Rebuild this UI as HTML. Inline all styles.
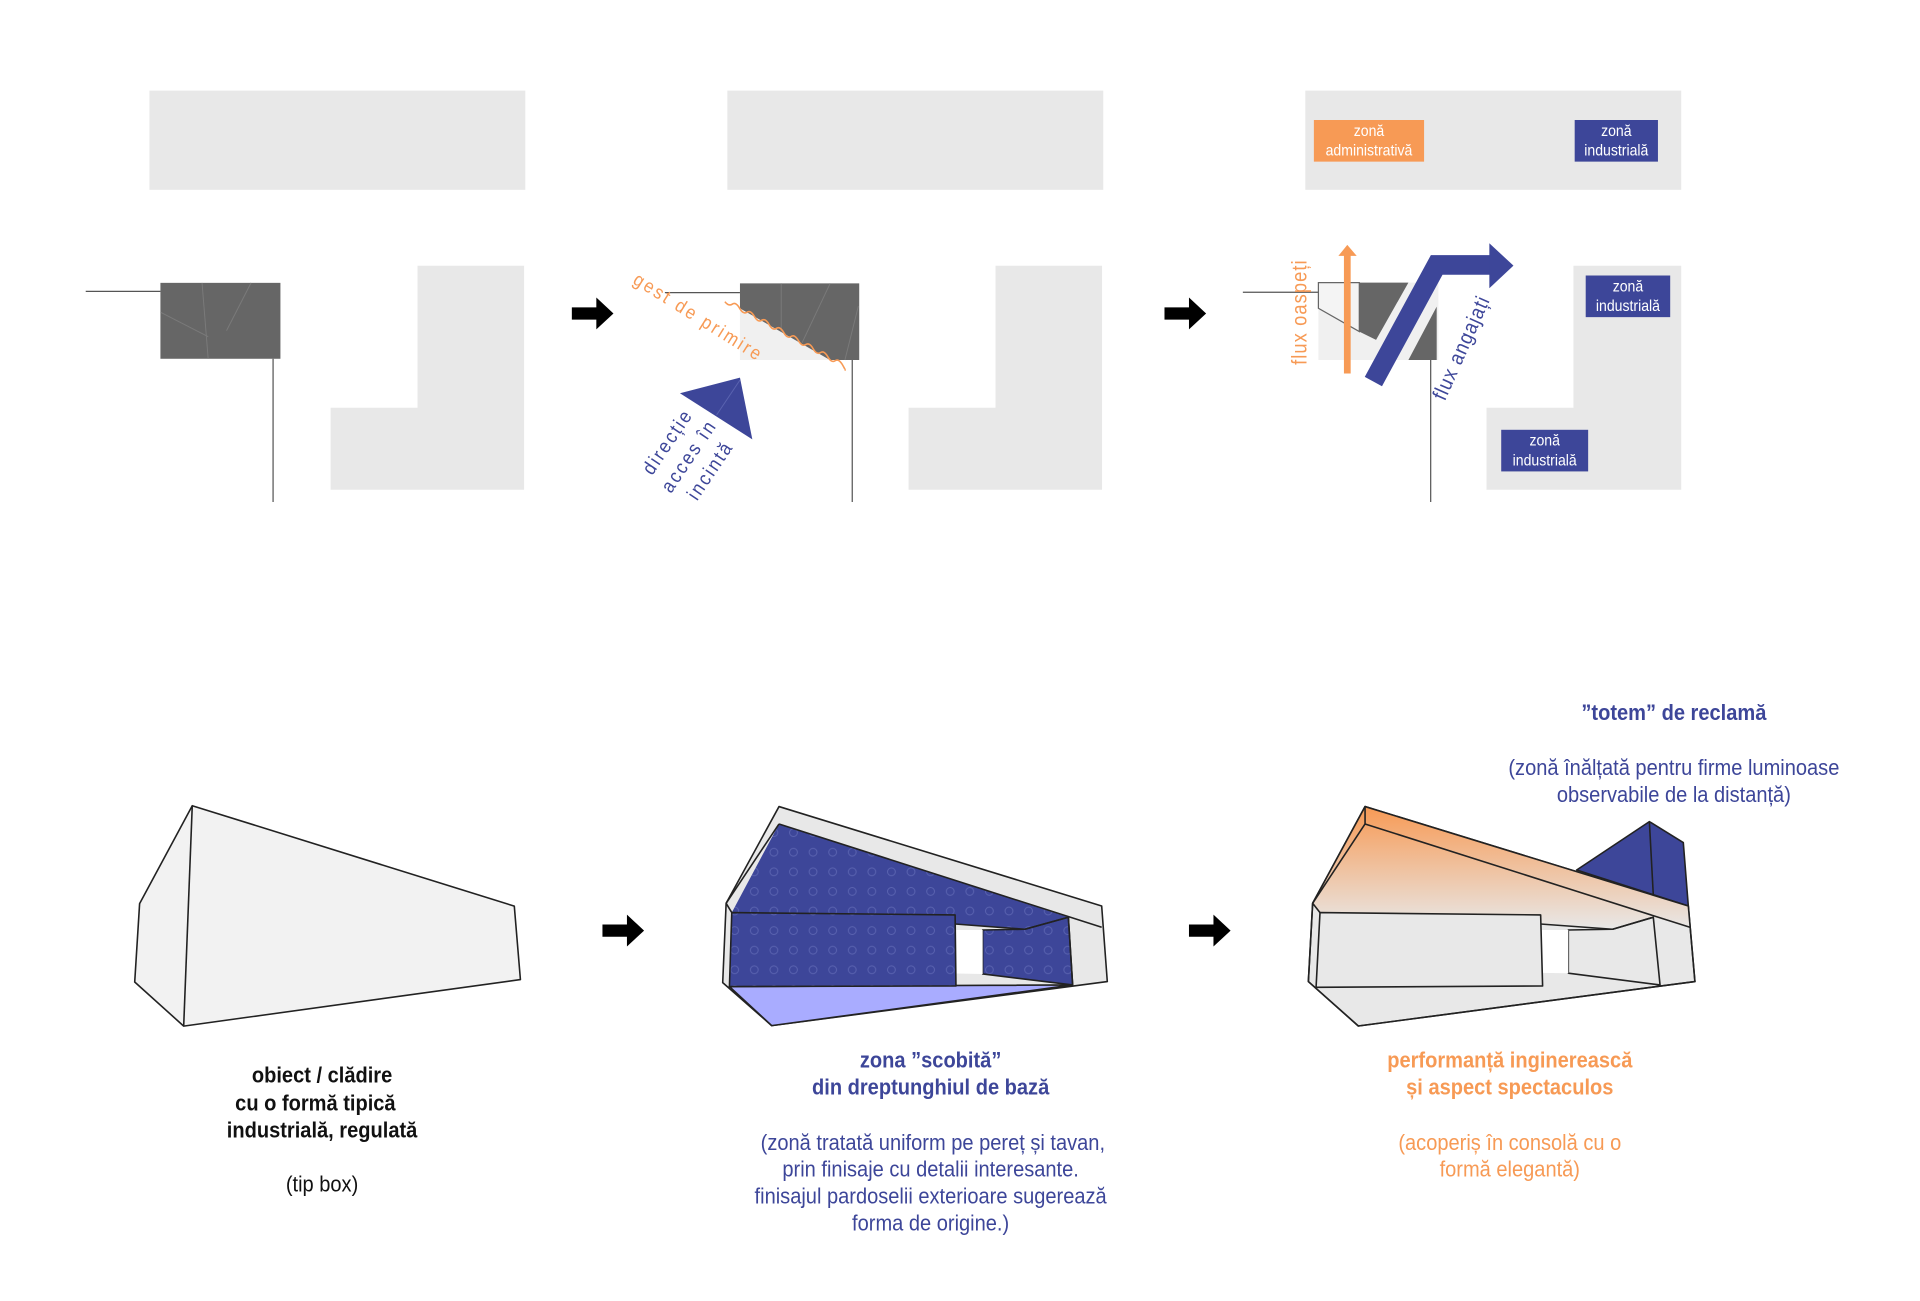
<!DOCTYPE html>
<html><head><meta charset="utf-8"><style>
html,body{margin:0;padding:0;background:#fff;}
svg{display:block;}
text{font-family:"Liberation Sans",sans-serif;}
</style></head><body>
<svg width="1920" height="1301" viewBox="0 0 1568 1062.5" xmlns="http://www.w3.org/2000/svg">
<defs>
<pattern id="dots" width="16" height="16" patternUnits="userSpaceOnUse">
<rect width="16" height="16" fill="#3d4699"/>
<circle cx="8" cy="8" r="3.2" fill="none" stroke="#5a63b0" stroke-width="0.8"/>
</pattern>
<linearGradient id="og" x1="0" y1="0" x2="0" y2="1">
<stop offset="0" stop-color="#f79a55"/><stop offset="1" stop-color="#e8e8e8"/>
</linearGradient>
<g id="arr"><polygon points="0,-5 20,-5 20,-13 34,0 20,13 20,5 0,5" fill="#000"/></g>
</defs>

<!-- TOP ROW -->
<g fill="#e8e8e8">
<rect x="122" y="74" width="307" height="81"/>
<rect x="594" y="74" width="307" height="81"/>
<rect x="1066" y="74" width="307" height="81"/>
<polygon points="341,217 428,217 428,400 270,400 270,333 341,333"/>
<polygon points="813,217 900,217 900,400 742,400 742,333 813,333"/>
<polygon points="1285,217 1373,217 1373,400 1214,400 1214,333 1285,333"/>
</g>
<!-- panel 1 -->
<line x1="70" y1="238" x2="131" y2="238" stroke="#555" stroke-width="1"/>
<line x1="223" y1="293" x2="223" y2="410" stroke="#555" stroke-width="1"/>
<rect x="131" y="231" width="98" height="62" fill="#666"/>
<g stroke="#7a7a7a" stroke-width="0.8" fill="none"><line x1="165" y1="231" x2="170" y2="293"/><line x1="205" y1="231" x2="185" y2="270"/><line x1="131" y1="255" x2="170" y2="275"/></g>
<use href="#arr" x="467" y="256"/>
<!-- panel 2 -->
<line x1="543" y1="239" x2="604.3" y2="239" stroke="#555" stroke-width="1"/>
<line x1="696" y1="294" x2="696" y2="410" stroke="#555" stroke-width="1"/>
<polygon points="604.3,251.8 677.8,294 604.3,294" fill="#f0f0f0"/>
<polygon points="604.3,231.4 701.7,231.4 701.7,294 677.8,294 604.3,251.8" fill="#666"/>
<g stroke="#7a7a7a" stroke-width="0.8" fill="none"><line x1="638" y1="231.4" x2="638" y2="271"/><line x1="678" y1="231.4" x2="655" y2="280"/><line x1="701" y1="250" x2="690" y2="294"/></g>
<path d="M592,246.4 q3,4 6,2 t6,3.3 t6,3.3 t6,3.3 t6,3.3 t6,3.3 t6,3.3 t6,3.3 t6,3.3 t6,3.3 t6,3.3 t6,3.3 t6,3.3 t6,3.3 t6,3.3 t6,3.3 t2,4" fill="none" stroke="#f79a55" stroke-width="1.3"/>
<text transform="translate(516,231) rotate(32) scale(0.9,1)" font-size="15.5" fill="#f79a55" letter-spacing="2.2">gest de primire</text>
<polygon points="555.3,321.2 604.3,308.4 614.4,358.8" fill="#3d4699"/>
<line x1="604.3" y1="310.4" x2="585.2" y2="338.9" stroke="#5a63b0" stroke-width="0.8"/>
<g transform="translate(562,372) rotate(-56) scale(0.9,1)" font-size="16" fill="#3d4699" letter-spacing="2" text-anchor="middle">
<text x="0" y="-15">direcție</text><text x="0" y="6">acces în</text><text x="0" y="27">incintă</text></g>
<use href="#arr" x="951" y="256"/>
<!-- panel 3 -->
<line x1="1015" y1="238.7" x2="1077" y2="238.7" stroke="#555" stroke-width="1"/>
<line x1="1168.4" y1="294" x2="1168.4" y2="410" stroke="#555" stroke-width="1"/>
<rect x="1076.7" y="230.8" width="98" height="63.2" fill="#f0f0f0"/>
<polygon points="1076.7,230.8 1110.1,230.8 1110.1,270.8 1076.7,251.8" fill="#f4f4f4" stroke="#666" stroke-width="1"/>
<polygon points="1110.1,230.8 1150.2,230.8 1123.8,277.6 1110.1,270.8" fill="#666"/>
<polygon points="1173.3,250.4 1173.3,294 1150.2,294" fill="#666"/>
<polyline points="1121.6,311.6 1173.3,216.4 1218,216.4" fill="none" stroke="#3d4699" stroke-width="16" stroke-linejoin="miter"/>
<polygon points="1216.3,198.7 1236,216.9 1216.3,235.4" fill="#3d4699"/>
<line x1="1100.3" y1="305" x2="1100.3" y2="208" stroke="#f79a55" stroke-width="5.5"/>
<polygon points="1093,209 1108,209 1100.3,200" fill="#f79a55"/>
<text transform="translate(1067,298) rotate(-90) scale(0.88,1)" font-size="17" fill="#f79a55" letter-spacing="1">flux oaspeți</text>
<text transform="translate(1180,328) rotate(-66) scale(0.88,1)" font-size="17" fill="#3d4699" letter-spacing="1">flux angajați</text>
<rect x="1073" y="98" width="90" height="34" fill="#f79a55"/>
<rect x="1286" y="98" width="68" height="34" fill="#3d4699"/>
<rect x="1295" y="225" width="69" height="34" fill="#3d4699"/>
<rect x="1226" y="351" width="71" height="34" fill="#3d4699"/>
<g font-size="12.5" fill="#fff" text-anchor="middle">
<g transform="translate(1118,0) scale(0.92,1)"><text x="0" y="111">zonă</text><text x="0" y="127">administrativă</text></g>
<g transform="translate(1320,0) scale(0.92,1)"><text x="0" y="111">zonă</text><text x="0" y="127">industrială</text></g>
<g transform="translate(1329.5,0) scale(0.92,1)"><text x="0" y="238">zonă</text><text x="0" y="254">industrială</text></g>
<g transform="translate(1261.5,0) scale(0.92,1)"><text x="0" y="364">zonă</text><text x="0" y="380">industrială</text></g>
</g>

<!-- BOTTOM ROW -->
<g stroke="#222" stroke-width="1.3" stroke-linejoin="round">
<polygon points="157,658 420,740 425,800 150,838 110,802 114,738" fill="#f2f2f2"/>
<line x1="157" y1="658" x2="150" y2="838"/>
</g>
<use href="#arr" x="492" y="760"/>

<!-- shape 2 -->
<g stroke="#222" stroke-width="1.3" stroke-linejoin="round">
<polygon points="636.2,658.7 899.7,739.9 904.3,801.6 630.2,837.6 590.2,802.5 593,737.7" fill="#e8e8e8"/>
<polygon points="636.2,672.9 872.5,749.1 837,758.9 780,754.6 780,747.2 597.6,745.3" fill="url(#dots)" stroke="none"/>
<polygon points="595.7,805.7 876,804.4 630.2,837.6" fill="#a9acff"/>
<polygon points="802.5,759.5 837,758.9 872.5,749.1 876,804.4 802.5,795.4" fill="url(#dots)"/>
<polygon points="780,759.5 802.5,759.5 802.5,795.4 780.7,795" fill="#fff" stroke="none"/>
<polygon points="597.6,745.3 780,747.2 780.7,805.2 595.7,805.7" fill="url(#dots)"/>
<polyline points="636.2,672.9 899.7,757.3" fill="none"/>
<line x1="872.5" y1="749.1" x2="876" y2="804.4"/>
<polyline points="780,754.6 837,758.9 872.5,749.1" fill="none"/>
<polyline points="593,737.7 636.2,672.9" fill="none"/>
<line x1="593" y1="737.7" x2="597.6" y2="745.3"/>
</g>
<use href="#arr" x="971" y="760"/>

<!-- shape 3 -->
<g stroke="#222" stroke-width="1.3" stroke-linejoin="round">
<polygon points="1287.6,710.5 1347,671 1374.7,688.1 1378.8,739.9" fill="#3d4699"/>
<line x1="1347" y1="671" x2="1350.2" y2="730.9"/>
<polygon points="1114.8,658.7 1378.8,739.9 1384.2,801.6 1109.3,837.9 1068.5,801.6 1072,737.7" fill="#e8e8e8"/>
<polygon points="1114.8,658.7 1378.8,739.9 1380.1,757.3 1350.2,749.1 1317,758.9 1258,754 1258.2,747.2 1078,745.3 1072,737.7" fill="url(#og)" stroke="none"/>
<polygon points="1114.8,658.7 1378.8,739.9 1384.2,801.6 1109.3,837.9 1068.5,801.6 1072,737.7" fill="none"/>
<polyline points="1114.8,672.9 1380.1,757.3" fill="none"/>
<line x1="1114.8" y1="658.7" x2="1114.8" y2="672.9"/>
<line x1="1072" y1="737.7" x2="1114.8" y2="672.9"/>
<polygon points="1280.8,759.5 1317,758.9 1350.2,749.1 1355.7,804.4 1280.8,794.8" fill="#e8e8e8"/>
<polygon points="1258.5,759.5 1280.8,759.5 1280.8,794.8 1259.5,794.5" fill="#fff" stroke="none"/>
<polyline points="1258,754.6 1317,758.9 1350.2,749.1" fill="none"/>
<polygon points="1078,745.3 1258.2,747.2 1259.8,805.2 1074.8,806.3" fill="#e8e8e8"/>
<line x1="1072" y1="737.7" x2="1078" y2="745.3"/>
</g>

<!-- captions -->
<g text-anchor="middle" font-size="18">
<g transform="translate(263,0) scale(0.91,1)">
<g font-weight="bold" fill="#111">
<text x="0" y="884">obiect / clădire</text><text x="-6" y="907">cu o formă tipică</text><text x="0" y="929">industrială, regulată</text></g>
<text x="0" y="973" fill="#111">(tip box)</text>
</g>
<g transform="translate(760,0) scale(0.91,1)">
<g font-weight="bold" fill="#3d4699"><text x="0" y="872">zona ”scobită”</text><text x="0" y="894">din dreptunghiul de bază</text></g>
<g fill="#3d4699"><text x="2" y="939">(zonă tratată uniform pe pereț și tavan,</text><text x="0" y="961">prin finisaje cu detalii interesante.</text><text x="0" y="983">finisajul pardoselii exterioare sugerează</text><text x="0" y="1005">forma de origine.)</text></g>
</g>
<g transform="translate(1233,0) scale(0.91,1)">
<g font-weight="bold" fill="#f79a55"><text x="0" y="872">performanță inginerească</text><text x="0" y="894">și aspect spectaculos</text></g>
<g fill="#f79a55"><text x="0" y="939">(acoperiș în consolă cu o</text><text x="0" y="961">formă elegantă)</text></g>
</g>
<g transform="translate(1367,0) scale(0.91,1)">
<text x="0" y="588" font-weight="bold" fill="#3d4699">”totem” de reclamă</text>
<g fill="#3d4699"><text x="0" y="633">(zonă înălțată pentru firme luminoase</text><text x="0" y="655">observabile de la distanță)</text></g>
</g>
</g>
</svg>
</body></html>
